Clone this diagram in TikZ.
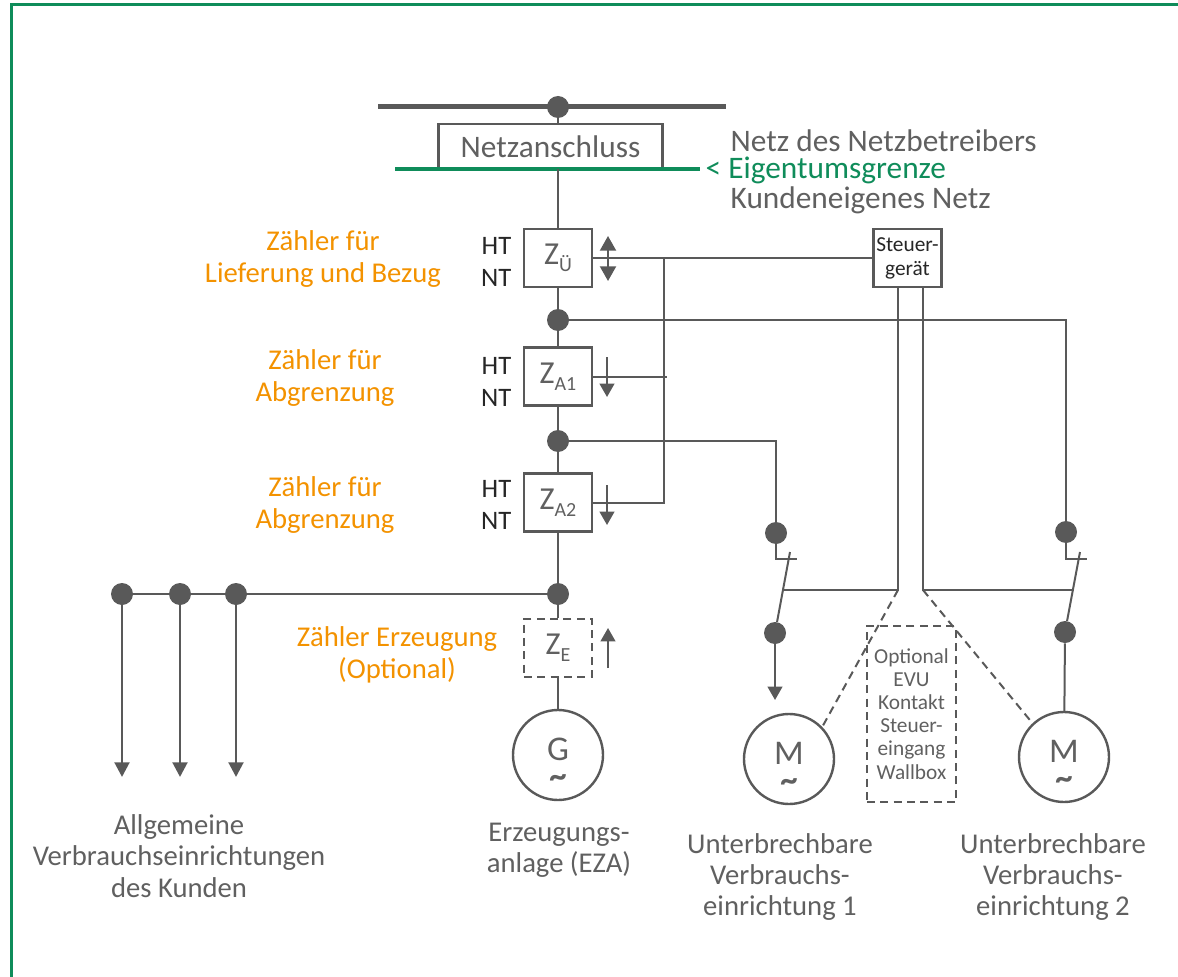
\documentclass[tikz,border=0pt]{standalone}
\usepackage{fontspec}
\setmainfont{Carlito}
\usetikzlibrary{arrows.meta}

\definecolor{wiregray}{HTML}{595959}
\definecolor{textgray}{HTML}{606060}
\definecolor{ownergreen}{HTML}{0F8C5A}
\definecolor{meterorange}{HTML}{F39200}

\newcommand{\fsz}[2]{\fontsize{#1}{#2}\selectfont}
\newcommand{\zmeter}[1]{Z\raisebox{-5pt}{\fsz{15}{15}#1}}
\newcommand{\motorsign}[1]{#1\\[6pt]{\fsz{26}{14}\bfseries\textasciitilde}}

\begin{document}
\begin{tikzpicture}[x=0.75pt, y=-0.75pt,
  wire/.style={draw=wiregray, line width=1.5pt},
  dashline/.style={draw=wiregray, line width=1.5pt, dash pattern=on 6pt off 4pt},
  zbox/.style={draw=wiregray, line width=2.2pt, minimum width=51pt, minimum height=43.5pt,
    inner sep=0pt, text=textgray, font=\fsz{24}{24}},
  dot/.style={circle, fill=wiregray, inner sep=0pt, minimum size=16.5pt},
  motor/.style={circle, draw=wiregray, line width=1.8pt, minimum size=67.5pt, inner sep=0pt},
  sign/.style={text=textgray, align=center, inner sep=0pt, font=\fsz{26}{14}},
  meterlabel/.style={text=meterorange, align=center, font=\fsz{21.5}{23.5}},
  htnt/.style={anchor=east, text=black!85, align=right, font=\fsz{20}{24}},
  caption/.style={text=textgray, align=center, font=\fsz{21.5}{23.5}},
  flow/.style={draw=wiregray, line width=1.5pt, -{Triangle[width=11pt,length=10pt]}},
  feed/.style={draw=wiregray, line width=2.2pt, -{Triangle[width=11pt,length=11pt]}},
]
\useasboundingbox (0,0) rectangle (1178,977);
\draw[ownergreen, line width=2.4pt] (11.3,977) -- (11.3,4.7) -- (1178,4.7);

% grid connection
\draw[wiregray, line width=3.75pt] (378,107) -- (726,107);
\node[dot] (top) at (558,107) {};
\node[draw=wiregray, line width=2pt, minimum width=168pt, minimum height=33.75pt,
  text=textgray, font=\fsz{23.5}{23.5}] (conn) at (550.5,146.5) {Netzanschluss};
\draw[wire] (top) -- (top |- conn.north);
\draw[ownergreen, line width=3pt] (395,169) -- (700,169);
\coordinate (cut) at (558,169);
\node[anchor=west, text=textgray, font=\fsz{23.5}{23.5}] (upper) at (726,141) {Netz des Netzbetreibers};
\node[anchor=west, text=ownergreen, font=\fsz{23.5}{23.5}] (limit) at (701,170) {< Eigentumsgrenze};
\node[anchor=west, text=textgray, font=\fsz{23.5}{23.5}] (lower) at (726,200) {Kundeneigenes Netz};

% meters
\node[zbox] (zu) at (558,258) {\zmeter{Ü}};
\node[dot] (d1) at (558,320) {};
\node[zbox] (za1) at (558,376.5) {\zmeter{A1}};
\node[dot] (d2) at (558,441) {};
\node[zbox] (za2) at (558,502.5) {\zmeter{A2}};
\node[dot] (d3) at (558,594) {};
\node[zbox, dashline] (ze) at (558,647.5) {\zmeter{E}};
\node[motor] (gen) at (558,755) {};
\node[sign] (gens) at (558,763) {\motorsign{G}};
\draw[wire] (cut) -- (zu) -- (d1) -- (za1) -- (d2) -- (za2) -- (d3) -- (ze) -- (gen);

\node[htnt] (htu) at (516,262) {HT\\NT};
\node[htnt] (hta1) at (516,382) {HT\\NT};
\node[htnt] (hta2) at (516,505) {HT\\NT};

\node[meterlabel] (lblu) at (323,259) {Zähler für\\Lieferung und Bezug};
\node[meterlabel] (lbla1) at (325,378) {Zähler für\\Abgrenzung};
\node[meterlabel] (lbla2) at (325,505) {Zähler für\\Abgrenzung};
\node[meterlabel] (lble) at (397,655) {Zähler Erzeugung\\(Optional)};

\draw[flow, {Triangle[width=12pt,length=11pt]}-{Triangle[width=12pt,length=11pt]}] (608,236) -- (608,281);
\draw[flow] (607,357) -- (607,397);
\draw[flow] (607,485) -- (607,525);
\draw[flow] (608,668) -- (608,628);

% control unit
\node[draw=wiregray, line width=2.2pt, minimum width=51pt, minimum height=43.5pt, inner sep=0pt,
  align=center, text=black!85, font=\fsz{16}{18}] (ctrl) at (907.5,258) {Steuer-\\gerät};
\coordinate (tap) at (664,258);
\draw[wire] (zu) -- (ctrl);
\draw[wire] (za2.east) -- (za2.east -| tap) -- (tap);
\draw[wire] (za1.east) -- ([xshift=2pt]za1.east -| tap);

% consumers
\foreach \n/\x in {1/122,2/180,3/236} {
  \node[dot] (dg\n) at (\x,594) {};
  \draw[feed] (dg\n) -- (\x,777);
}
\draw[wire] (d3) -- (dg1);

% interruptible consumers
\node[dot] (dl1) at (776,533) {};
\node[dot] (dl2) at (775,633) {};
\node[dot] (dr1) at (1066,532) {};
\node[dot] (dr2) at (1065,632) {};
\node[motor] (m1) at (789,759) {};
\node[sign] (m1s) at (789,767) {\motorsign{M}};
\node[motor] (m2) at (1064,757) {};
\node[sign] (m2s) at (1064,765) {\motorsign{M}};
\draw[wire] (d1) -| (dr1);
\draw[wire] (d2) -| (dl1);
\draw[wire] (dl1) -- (776,559) -- (797,559);
\draw[wire] (790,552) -- (dl2);
\draw[flow] (dl2) -- (775,700);
\draw[wire] (dr1) -- (1066,559) -- (1087,559);
\draw[wire] (1080,552) -- (dr2);
\draw[wire] (dr2) -- (m2);

\coordinate (leverL) at (782,590);
\coordinate (leverR) at (1073,590);
\coordinate (kl) at (898,590);
\coordinate (kr) at (923,590);
\draw[wire] (ctrl.south -| kl) -- (kl) -- (leverL);
\draw[wire] (ctrl.south -| kr) -- (kr) -- (leverR);
\draw[dashline] (kl) -- (m1.44);
\draw[dashline] (kr) -- (m2.133);
\node[dashline, minimum width=66.75pt, minimum height=132pt, align=center, text=textgray,
  font=\fsz{16}{17.3}] (evu) at (911.5,714) {Optional\\EVU\\Kontakt\\Steuer-\\eingang\\Wallbox};

% captions
\node[caption] (capall) at (179,856) {Allgemeine\\Verbrauchseinrichtungen\\des Kunden};
\node[caption] (capgen) at (559,850) {Erzeugungs-\\anlage (EZA)};
\node[caption] (capm1) at (780,877) {Unterbrechbare\\Verbrauchs-\\einrichtung 1};
\node[caption] (capm2) at (1053,877) {Unterbrechbare\\Verbrauchs-\\einrichtung 2};
\end{tikzpicture}
\end{document}
